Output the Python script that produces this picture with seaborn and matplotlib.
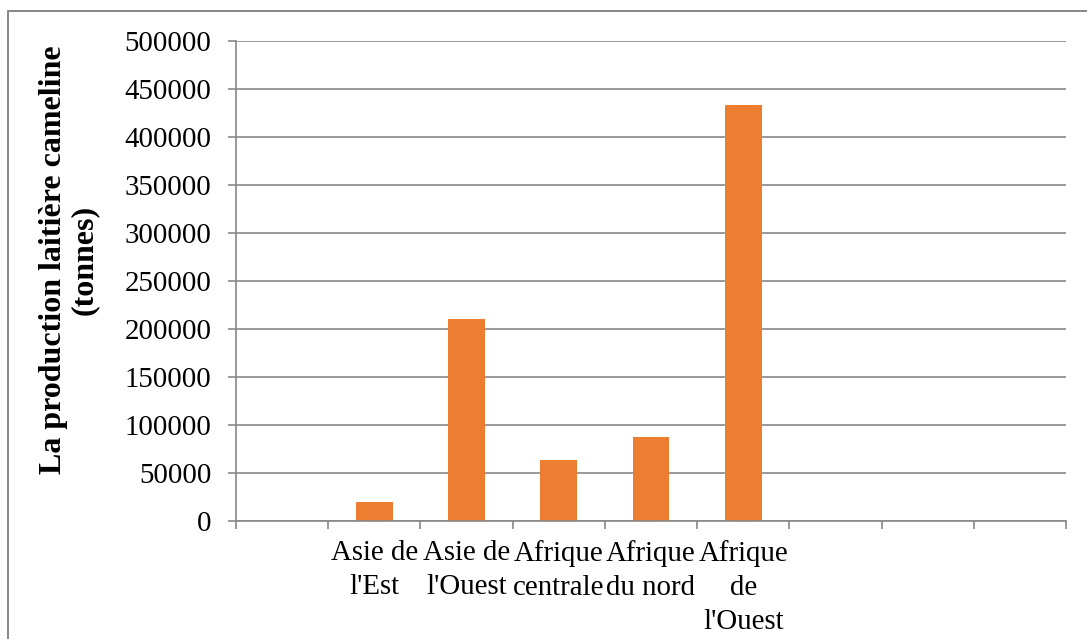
import numpy as np
import pandas as pd
import matplotlib
matplotlib.use("Agg")
import matplotlib.pyplot as plt
from matplotlib.lines import Line2D
import seaborn as sns

# Camel milk production by region (tonnes); blank slots keep the axis width
regions = ["", "Asie de\nl'Est", "Asie de\nl'Ouest", "Afrique\ncentrale",
           "Afrique\ndu nord", "Afrique\nde\nl'Ouest", " ", "  ", "   "]
production = [0, 20000, 210000, 64000, 88000, 433000, 0, 0, 0]
y_ticks = [0, 50000, 100000, 150000, 200000, 250000, 300000, 350000, 400000, 450000, 500000]

df = pd.DataFrame({"region": regions, "production": production})

sns.set_theme(style="white")
plt.rcParams["font.family"] = ["Liberation Serif", "DejaVu Serif"]

GREY = "#878787"
ORANGE = "#ED7D31"
W, H = 1087, 639

fig = plt.figure(figsize=(W / 100, H / 100), dpi=100)
ax = fig.add_axes([236 / W, 1 - 521 / H, (1066 - 236) / W, (521 - 41) / H])

sns.barplot(data=df, x="region", y="production", order=regions,
            color=ORANGE, saturation=1, width=0.4, linewidth=0, ax=ax)

ax.set_xlim(-0.5, len(regions) - 0.5)
ax.set_ylim(0, 500000)
ax.set_yticks(y_ticks)
ax.set_yticklabels([str(v) for v in y_ticks], fontsize=20.8, color="black")
ax.grid(axis="y", color=GREY, linewidth=1.2)
ax.set_axisbelow(True)

# category labels without tick marks; tick marks sit on the category boundaries
ax.set_xticks(range(len(regions)))
ax.set_xticklabels(regions, fontsize=20.8, color="black", linespacing=1.4)
ax.tick_params(axis="x", which="major", length=0, pad=14)
ax.set_xticks(np.arange(-0.5, len(regions)), minor=True)
ax.tick_params(axis="x", which="minor", bottom=True, length=5.8, width=1.2,
               color=GREY, direction="out")
ax.tick_params(axis="y", left=True, length=5.8, width=1.2, color=GREY,
               direction="out", pad=12)

for side in ["top", "right"]:
    ax.spines[side].set_visible(False)
for side in ["left", "bottom"]:
    ax.spines[side].set_color(GREY)
    ax.spines[side].set_linewidth(1.2)

ax.set_xlabel("")
ax.set_ylabel("La production laitière cameline\n(tonnes)", fontsize=23,
              fontweight="bold", color="black", linespacing=1.1)
ax.yaxis.set_label_coords((99 - 236) / (1066 - 236), (521 - 260) / (521 - 41))

# chart frame edges
fig.add_artist(Line2D([8 / W, 1], [1 - 11 / H, 1 - 11 / H], color=GREY, linewidth=1.4))
fig.add_artist(Line2D([8 / W, 8 / W], [0, 1 - 11 / H], color=GREY, linewidth=1.4))

fig.savefig("out.png", dpi=100, facecolor="white")
